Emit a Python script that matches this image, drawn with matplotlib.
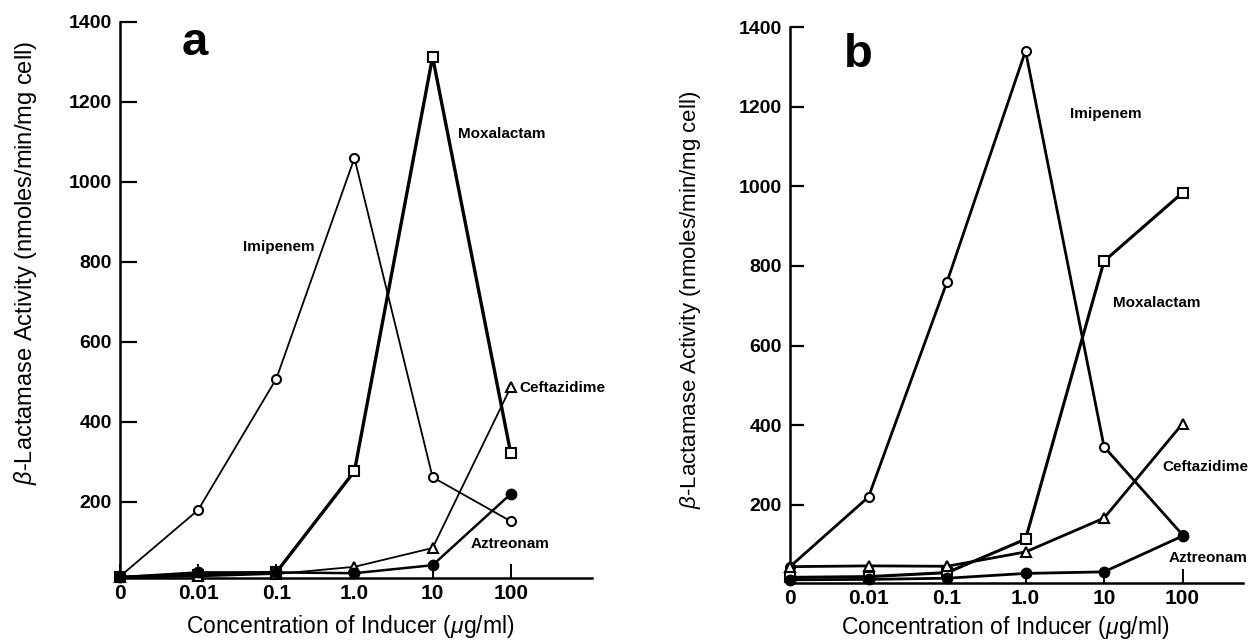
import matplotlib
matplotlib.use("Agg")
import matplotlib.pyplot as plt

plt.rcParams['font.family'] = ['Liberation Sans', 'DejaVu Sans']
plt.rcParams['mathtext.fontset'] = 'custom'
plt.rcParams['mathtext.it'] = 'Liberation Sans:italic'

# concentrations (categorical positions on the x axis)
conc_labels = ['0', '0.01', '0.1', '1.0', '10', '100']
conc_pos = [0, 1, 2, 3, 4, 5]

# panel a
a_imipenem = [14, 180, 508, 1060, 262, 152]
a_moxalactam = [12, 18, 24, 277, 1313, 322]
a_ceftazidime = [12, 14, 20, 38, 85, 487]
a_aztreonam = [12, 24, 24, 22, 42, 220]

# panel b
b_imipenem = [45, 220, 760, 1340, 346, 125]
b_moxalactam = [18, 20, 30, 114, 812, 984]
b_ceftazidime = [45, 47, 46, 82, 167, 404]
b_aztreonam = [12, 13, 16, 28, 32, 122]

ylab = r'$\beta$-Lactamase Activity (nmoles/min/mg cell)'
xlab = r'Concentration of Inducer ($\mu$g/ml)'

fig = plt.figure(figsize=(12.53, 6.43), dpi=100, facecolor='white')
W, H = 1253.0, 643.0
ax_a = fig.add_axes([120 / W, (H - 578) / H, 472 / W, 556 / H])
ax_b = fig.add_axes([790 / W, (H - 583) / H, 453 / W, 556 / H])


def style(ax, xmax, ymin, ytick_len):
    ax.set_xlim(0, xmax)
    ax.set_ylim(ymin, 1400)
    for s in ['top', 'right']:
        ax.spines[s].set_visible(False)
    for s in ['left', 'bottom']:
        ax.spines[s].set_linewidth(1.8)
    ax.set_yticks([200, 400, 600, 800, 1000, 1200, 1400])
    ax.set_xticks(conc_pos)
    ax.set_xticklabels(conc_labels)
    ax.tick_params(axis='y', direction='in', length=ytick_len, width=1.6,
                   pad=6, labelsize=14)
    ax.tick_params(axis='x', direction='in', length=10, width=1.4,
                   pad=4, labelsize=15)
    for lab in ax.get_xticklabels() + ax.get_yticklabels():
        lab.set_fontweight('bold')


def series(ax, y, marker, mfc, lw, ms=6.5):
    ax.plot(conc_pos, y, color='black', lw=lw, marker=marker, ms=ms,
            mfc=mfc, mec='black', mew=1.5, clip_on=False, zorder=3)


# ---- panel a
style(ax_a, 6.04, 10, 12)
series(ax_a, a_imipenem, 'o', 'white', 1.3)
series(ax_a, a_moxalactam, 's', 'white', 2.4)
series(ax_a, a_ceftazidime, '^', 'white', 1.3)
series(ax_a, a_aztreonam, 'o', 'black', 1.8, ms=7)
ax_a.text(1.57, 838, 'Imipenem', fontsize=11, fontweight='bold', va='center')
ax_a.text(4.32, 1120, 'Moxalactam', fontsize=11, fontweight='bold', va='center')
ax_a.text(5.11, 485, 'Ceftazidime', fontsize=11, fontweight='bold', va='center')
ax_a.text(4.49, 95, 'Aztreonam', fontsize=11, fontweight='bold', va='center')
ax_a.text(0.79, 1317, 'a', fontsize=34, fontweight='bold', va='baseline')
ax_a.set_ylabel(ylab, fontsize=17)
ax_a.yaxis.set_label_coords(-0.172, 0.567)
ax_a.set_xlabel(xlab, fontsize=16.5)
ax_a.xaxis.set_label_coords(0.487, -0.063)

# ---- panel b
style(ax_b, 5.77, 4, 10)
series(ax_b, b_imipenem, 'o', 'white', 2.0)
series(ax_b, b_moxalactam, 's', 'white', 2.2)
series(ax_b, b_ceftazidime, '^', 'white', 2.0)
series(ax_b, b_aztreonam, 'o', 'black', 2.0, ms=7)
ax_b.text(3.57, 1181, 'Imipenem', fontsize=11, fontweight='bold', va='center')
ax_b.text(4.11, 708, 'Moxalactam', fontsize=11, fontweight='bold', va='center')
ax_b.text(4.74, 296, 'Ceftazidime', fontsize=11, fontweight='bold', va='center')
ax_b.text(4.82, 67, 'Aztreonam', fontsize=11, fontweight='bold', va='center')
ax_b.text(0.69, 1299, 'b', fontsize=34, fontweight='bold', va='baseline')
ax_b.set_ylabel(ylab, fontsize=16)
ax_b.yaxis.set_label_coords(-0.192, 0.509)
ax_b.set_xlabel(xlab, fontsize=16.5)
ax_b.xaxis.set_label_coords(0.475, -0.056)

fig.savefig('out.png', dpi=100, facecolor='white')
